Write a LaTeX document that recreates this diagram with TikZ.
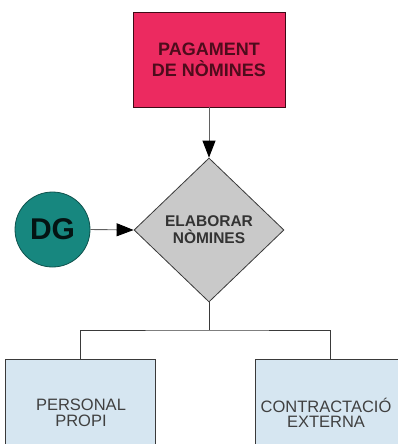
\documentclass[tikz,border=0pt]{standalone}
\usepackage{fontspec}
\setmainfont{Liberation Sans}
\usetikzlibrary{shapes.geometric,arrows.meta}
\definecolor{payred}{HTML}{EC2A60}
\definecolor{payredtext}{HTML}{4E0C1C}
\definecolor{decgray}{HTML}{C9C9C9}
\definecolor{dgteal}{HTML}{17877F}
\definecolor{boxblue}{HTML}{D6E6F1}
\definecolor{linegray}{HTML}{3A3A3A}
\tikzset{
  connector/.style={draw=linegray, line width=0.9pt},
  arrowline/.style={draw=linegray!80, line width=0.9pt, -{Triangle[length=17pt,width=13pt,fill=black,color=black]}},
  taskbox/.style={draw=payredtext!80!black, line width=0.8pt, fill=payred, text=payredtext,
    minimum width=152pt, minimum height=95pt, inner sep=0pt, align=center,
    font=\bfseries\fontsize{18}{21}\selectfont},
  decision/.style={diamond, draw=linegray, line width=0.8pt, fill=decgray, text=black!80,
    minimum width=150pt, minimum height=144pt, inner sep=0pt, align=center,
    font=\bfseries\fontsize{15.5}{17}\selectfont},
  actor/.style={circle, draw=dgteal!60!black, line width=0.8pt, fill=dgteal, text=black!85!dgteal,
    minimum size=75pt, inner sep=0pt, font=\bfseries\fontsize{30}{32}\selectfont},
  unitbox/.style={draw=linegray, line width=1pt, fill=boxblue, inner sep=0pt},
  unittext/.style={text=black!75, align=center, font=\fontsize{16.5}{15.5}\selectfont}
}
\begin{document}
\begin{tikzpicture}[x=1pt,y=-1pt]
  \useasboundingbox (0,0) rectangle (398,444);
  \clip (0,0) rectangle (398,444);

  % top task
  \node[taskbox] (pay) at (209,59.5) {PAGAMENT\\DE NÒMINES};

  % decision and actor
  \node[decision] (dia) at (209,230) {ELABORAR\\NÒMINES};
  \node[actor] (dg) at (52.5,229.5) {DG};

  % bottom units
  \node[unitbox, minimum width=150pt, minimum height=110pt] (lbox) at (80,414) {};
  \node[unitbox, minimum width=150pt, minimum height=110pt] (rbox) at (330,414) {};
  \node[unittext] (ltext) at (81,413) {PERSONAL\\PROPI};
  \node[unittext] (rtext) at (326,413) {CONTRACTACIÓ\\EXTERNA};

  % connectors
  \draw[arrowline] (pay.south) -- (dia.north);
  \draw[arrowline] (dg.east) -- (dia.west);
  \draw[connector] (dia.south) -- (dia.south |- 0,330) coordinate (split);
  \draw[connector] (lbox.north) |- (split) -| (rbox.north);
\end{tikzpicture}
\end{document}
